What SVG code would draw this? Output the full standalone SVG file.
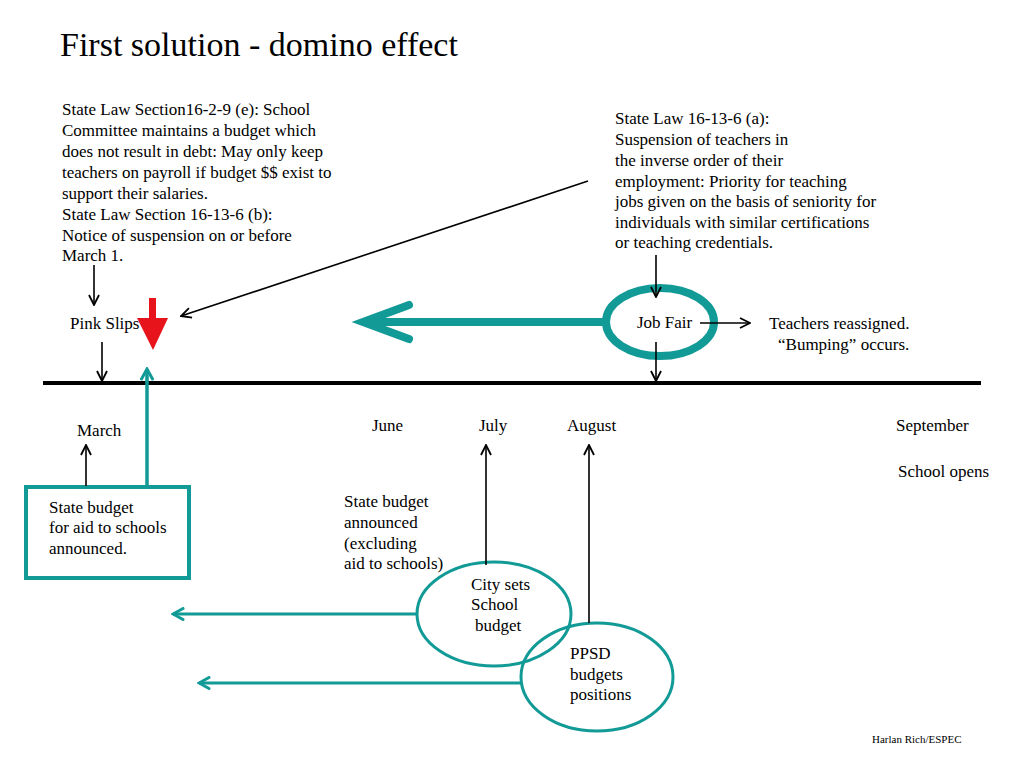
<svg xmlns="http://www.w3.org/2000/svg" width="1024" height="768" viewBox="0 0 1024 768" font-family="'Liberation Serif', 'Times New Roman', 'DejaVu Serif', serif">
<defs>
<style>
text{fill:#000}
.t{font-size:17px}
.blk{stroke:#000;stroke-width:1.6;fill:none}
.tl{stroke:#129a96;fill:none}
</style>
<marker id="ab" viewBox="0 0 12 12" refX="11" refY="6" markerWidth="12" markerHeight="12" markerUnits="userSpaceOnUse" orient="auto">
<path d="M1,1 L11,6 L1,11" fill="none" stroke="#000" stroke-width="1.8"/>
</marker>
<marker id="at" viewBox="0 0 14 14" refX="12" refY="7" markerWidth="14" markerHeight="14" markerUnits="userSpaceOnUse" orient="auto">
<path d="M2,1.5 L12,7 L2,12.5" fill="none" stroke="#129a96" stroke-width="3" stroke-linecap="round"/>
</marker>
</defs>
<rect width="1024" height="768" fill="#fff"/>
<text x="60" y="56" font-size="34">First solution - domino effect</text>

<g id="law-left">
<text class="t" x="62" y="115">State Law Section16-2-9 (e): School</text>
<text class="t" x="62" y="136">Committee maintains a budget which</text>
<text class="t" x="62" y="157">does not result in debt: May only keep</text>
<text class="t" x="62" y="178">teachers on payroll if budget $$ exist to</text>
<text class="t" x="62" y="199">support their salaries.</text>
<text class="t" x="62" y="220">State Law Section 16-13-6 (b):</text>
<text class="t" x="62" y="241">Notice of suspension on or before</text>
<text class="t" x="62" y="261">March 1.</text>
</g>
<g id="law-right">
<text class="t" x="615" y="124">State Law 16-13-6 (a):</text>
<text class="t" x="615" y="145">Suspension of teachers in</text>
<text class="t" x="615" y="166">the inverse order of their</text>
<text class="t" x="615" y="187">employment: Priority for teaching</text>
<text class="t" x="615" y="207">jobs given on the basis of seniority for</text>
<text class="t" x="615" y="228">individuals with similar certifications</text>
<text class="t" x="615" y="248">or teaching credentials.</text>
</g>
<g id="pink-slips"><text class="t" x="70" y="329">Pink Slips</text></g>
<g id="red-arrow">
<rect x="149" y="298" width="7" height="24" fill="#e8141b"/>
<polygon points="137,318 168,318 153,350" fill="#e8141b"/>
</g>
<g id="timeline"><line x1="43" y1="383" x2="981" y2="383" stroke="#000" stroke-width="4"/></g>
<g id="months">
<text class="t" x="77" y="436">March</text>
<text class="t" x="372" y="431">June</text>
<text class="t" x="479" y="431">July</text>
<text class="t" x="567" y="431">August</text>
<text class="t" x="896" y="431">September</text>
<text class="t" x="898" y="477">School opens</text>
</g>
<g id="state-box">
<rect x="26" y="487" width="163" height="91" fill="none" stroke="#129a96" stroke-width="4"/>
<text class="t" x="49" y="513">State budget</text>
<text class="t" x="49" y="533">for aid to schools</text>
<text class="t" x="49" y="554">announced.</text>
</g>
<g id="state-budget-note">
<text class="t" x="344" y="507">State budget</text>
<text class="t" x="344" y="528">announced</text>
<text class="t" x="344" y="549">(excluding</text>
<text class="t" x="344" y="569">aid to schools)</text>
</g>
<g id="job-fair">
<ellipse cx="660" cy="322" rx="54" ry="34" fill="none" stroke="#129a96" stroke-width="8"/>
<text class="t" x="637" y="328">Job Fair</text>
</g>
<g id="teachers-reassigned">
<text class="t" x="769" y="329">Teachers reassigned.</text>
<text class="t" x="778" y="350">“Bumping” occurs.</text>
</g>
<g id="city-budget">
<ellipse cx="494" cy="614" rx="77" ry="52" fill="none" stroke="#129a96" stroke-width="3"/>
<text class="t" x="471" y="590">City sets</text>
<text class="t" x="471" y="610">School</text>
<text class="t" x="475" y="631">budget</text>
</g>
<g id="ppsd">
<ellipse cx="597" cy="677" rx="76" ry="54" fill="none" stroke="#129a96" stroke-width="3"/>
<text class="t" x="570" y="659">PPSD</text>
<text class="t" x="570" y="680">budgets</text>
<text class="t" x="570" y="700">positions</text>
</g>
<g id="credit"><text x="872" y="743" font-size="11">Harlan Rich/ESPEC</text></g>

<g id="connectors">
<line class="blk" x1="588" y1="181" x2="181" y2="316" marker-end="url(#ab)"/>
<line class="blk" x1="94" y1="265" x2="94" y2="305" marker-end="url(#ab)"/>
<line class="blk" x1="102" y1="342" x2="102" y2="381" marker-end="url(#ab)"/>
<line class="blk" x1="86" y1="486" x2="86" y2="445" marker-end="url(#ab)"/>
<line class="tl" x1="147" y1="486" x2="147" y2="369" stroke-width="3.5" marker-end="url(#at)"/>
<line class="blk" x1="486" y1="565" x2="486" y2="445" marker-end="url(#ab)"/>
<line class="blk" x1="589" y1="623" x2="589" y2="445" marker-end="url(#ab)"/>
<line class="tl" x1="417" y1="614" x2="173" y2="614" stroke-width="3" marker-end="url(#at)"/>
<line class="tl" x1="521" y1="683" x2="199" y2="683" stroke-width="3" marker-end="url(#at)"/>
<line class="blk" x1="656" y1="255" x2="656" y2="297" marker-end="url(#ab)"/>
<line class="blk" x1="656" y1="342" x2="656" y2="381" marker-end="url(#ab)"/>
<line class="blk" x1="700" y1="323" x2="750" y2="323" marker-end="url(#ab)"/>
<g id="big-teal-arrow">
<line x1="606" y1="322" x2="366" y2="322" stroke="#129a96" stroke-width="8"/>
<path d="M409,305 L363,322 L409,339" fill="none" stroke="#129a96" stroke-width="8" stroke-linecap="round" stroke-linejoin="miter"/>
</g>
</g>
</svg>
